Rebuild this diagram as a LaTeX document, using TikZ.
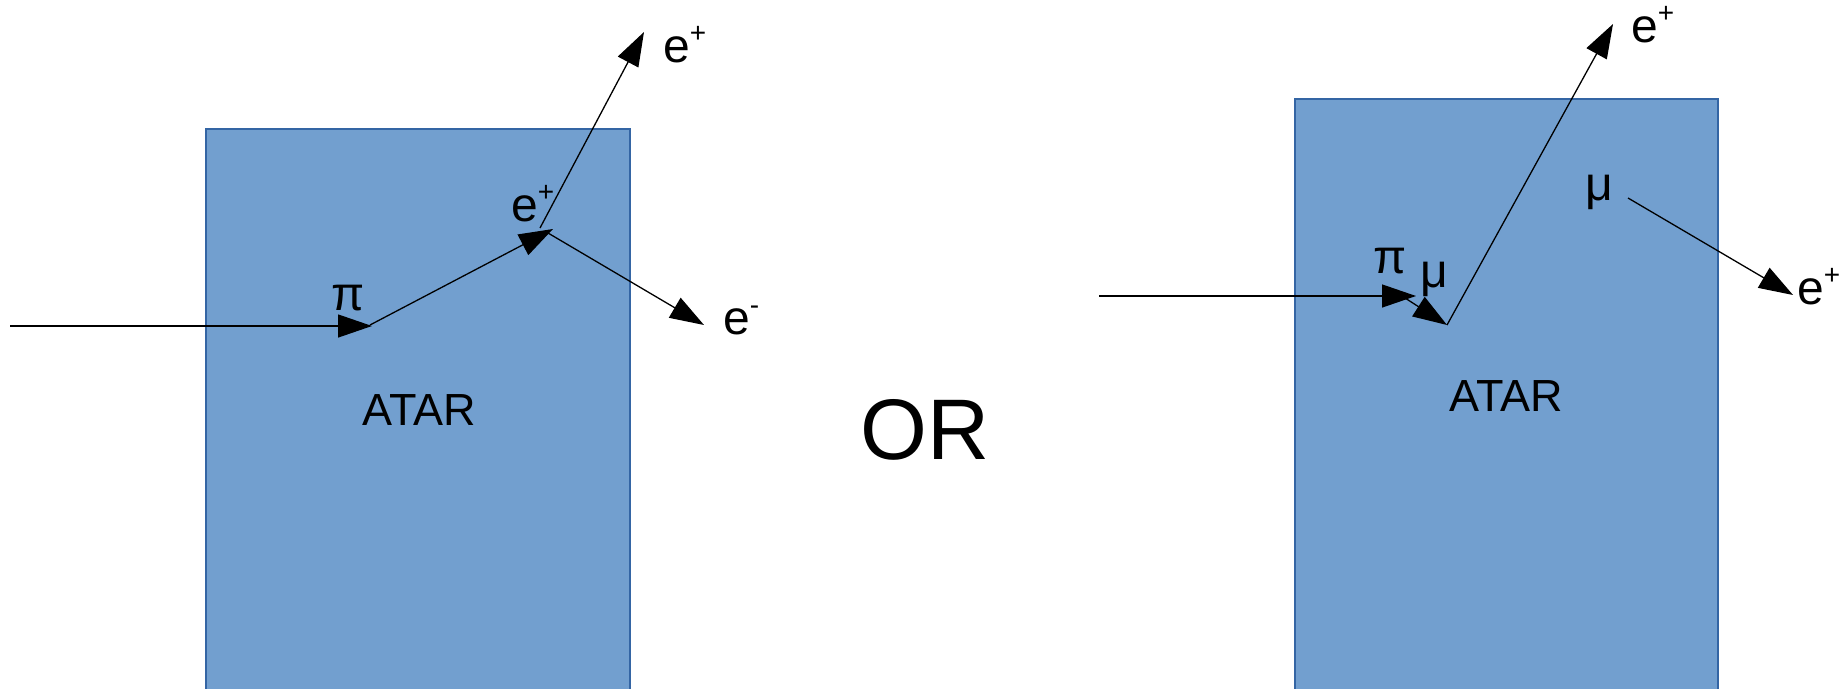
\documentclass[tikz,border=0pt]{standalone}
\usepackage{fontspec}
\setmainfont{Liberation Sans}
\usetikzlibrary{arrows.meta}
\definecolor{atarfill}{HTML}{729FCF}
\definecolor{atarline}{HTML}{3465A4}
\newcommand{\chg}[1]{\raisebox{20pt}{\fontsize{28}{28}\selectfont #1}}
\tikzset{
  atar/.style={fill=atarfill, draw=atarline, line width=1.2pt},
  track/.style={line width=1.3pt, -{Triangle[length=34pt,width=23pt]}},
  lbl/.style={inner sep=0pt, font=\fontsize{48}{48}\selectfont},
  boxlbl/.style={inner sep=0pt, font=\fontsize{45}{45}\selectfont},
  orlbl/.style={inner sep=0pt, font=\fontsize{86}{86}\selectfont}
}
\begin{document}
\begin{tikzpicture}[x=1pt,y=-1pt]
\useasboundingbox (0,0) rectangle (1846,688);
% boxes
\draw[atar] (206,129) rectangle (630,700);
\draw[atar] (1295,99) rectangle (1718,700);
% left tracks
\coordinate (Lin) at (10,326);
\coordinate (Lpi) at (372,326);
\coordinate (Lpis) at (370,325);
\coordinate (Lv) at (553,229);
\coordinate (Lvp) at (540,228);
\coordinate (Lvm) at (548,233);
\coordinate (Lep) at (644,32);
\coordinate (Lem) at (704,325);
\draw[track] (Lin) -- (Lpi);
\draw[track] (Lpis) -- (Lv);
\draw[track] (Lvp) -- (Lep);
\draw[track] (Lvm) -- (Lem);
% right tracks
\coordinate (Rin) at (1099,296);
\coordinate (Rpi) at (1416,296);
\coordinate (Rpis) at (1405,298);
\coordinate (Rmu) at (1447,325);
\coordinate (Rep) at (1613,24);
\coordinate (Rmu2) at (1628,198);
\coordinate (Rep2) at (1793,295);
\draw[track] (Rin) -- (Rpi);
\draw[track] (Rpis) -- (Rmu);
\draw[track] (Rmu) -- (Rep);
\draw[track] (Rmu2) -- (Rep2);
% labels left
\node[lbl, anchor=base] (lpi) at (348,310) {π};
\node[lbl, anchor=base west] (lepin) at (511,221) {e\chg{+}};
\node[lbl, anchor=base west] (lepout) at (663,62) {e\chg{+}};
\node[lbl, anchor=base west] (lem) at (723,334) {e\chg{-}};
\node[boxlbl, anchor=base] (latar) at (419,425) {ATAR};
% OR
\node[orlbl, anchor=base] (or) at (925,459) {OR};
% labels right
\node[lbl, anchor=base] (rpi) at (1390,273) {π};
\node[lbl, anchor=base] (rmus) at (1434,287) {μ};
\node[lbl, anchor=base] (rmub) at (1599,200) {μ};
\node[lbl, anchor=base west] (repout) at (1631,42) {e\chg{+}};
\node[lbl, anchor=base west] (rep2) at (1797,304) {e\chg{+}};
\node[boxlbl, anchor=base] (ratar) at (1506,411) {ATAR};
\end{tikzpicture}
\end{document}
